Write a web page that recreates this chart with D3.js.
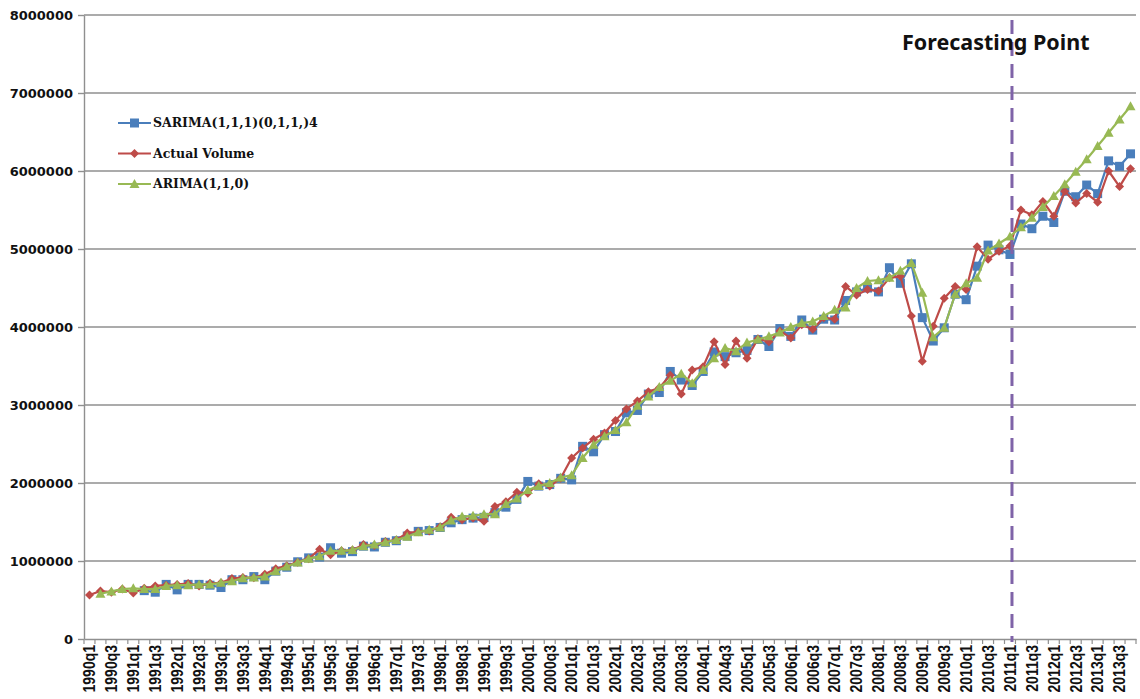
<!DOCTYPE html>
<html>
<head>
<meta charset="utf-8">
<script src="https://cdn.jsdelivr.net/npm/d3@7"></script>
<style>
  html, body { margin: 0; padding: 0; background: #fff; }
  svg { display: block; }
</style>
</head>
<body>
<svg id="chart" width="1140" height="699"></svg>
<script>
// Quarterly periods, 1990q1 .. 2013q4
const years = d3.range(1990, 2014);
const quarters = years.flatMap(yr => [1, 2, 3, 4].map(q => `${yr}q${q}`));

// Actual volume
const actualVolume = [
  565000, 615000, 600000, 640000,
  590000, 650000, 680000, 690000,
  700000, 710000, 680000, 715000,
  720000, 775000, 790000, 785000,
  830000, 900000, 940000, 985000,
  1030000, 1150000, 1080000, 1130000,
  1140000, 1210000, 1200000, 1250000,
  1270000, 1360000, 1375000, 1385000,
  1440000, 1560000, 1530000, 1550000,
  1510000, 1700000, 1760000, 1880000,
  1870000, 1990000, 1960000, 2060000,
  2320000, 2450000, 2560000, 2640000,
  2800000, 2950000, 3050000, 3170000,
  3220000, 3380000, 3140000, 3450000,
  3490000, 3810000, 3520000, 3820000,
  3600000, 3850000, 3810000, 3950000,
  3860000, 4030000, 3970000, 4120000,
  4100000, 4520000, 4410000, 4480000,
  4460000, 4630000, 4650000, 4140000,
  3560000, 4010000, 4370000, 4520000,
  4480000, 5030000, 4870000, 4970000,
  5040000, 5500000, 5440000, 5610000,
  5420000, 5740000, 5590000, 5710000,
  5600000, 6000000, 5800000, 6030000
];

// SARIMA(1,1,1)(0,1,1)4 fitted / forecast values
const sarimaValues = [
  null, null, null, null,
  null, 620000, 600000, 700000,
  630000, 700000, 700000, 690000,
  660000, 760000, 760000, 800000,
  760000, 870000, 920000, 990000,
  1040000, 1050000, 1170000, 1100000,
  1120000, 1190000, 1180000, 1240000,
  1260000, 1320000, 1380000, 1390000,
  1430000, 1490000, 1530000, 1550000,
  1560000, 1620000, 1690000, 1790000,
  2020000, 1960000, 1980000, 2060000,
  2040000, 2470000, 2400000, 2620000,
  2660000, 2900000, 2930000, 3140000,
  3160000, 3430000, 3320000, 3250000,
  3430000, 3680000, 3620000, 3670000,
  3700000, 3840000, 3750000, 3980000,
  3880000, 4090000, 3960000, 4100000,
  4090000, 4340000, 4450000, 4500000,
  4450000, 4760000, 4560000, 4810000,
  4120000, 3820000, 3990000, 4420000,
  4350000, 4780000, 5050000, 4990000,
  4930000, 5320000, 5260000, 5420000,
  5340000, 5740000, 5670000, 5820000,
  5710000, 6130000, 6060000, 6220000
];

// ARIMA(1,1,0) fitted / forecast values
const arimaValues = [
  null, 580000, 610000, 640000,
  650000, 640000, 640000, 680000,
  690000, 690000, 700000, 700000,
  720000, 740000, 780000, 790000,
  800000, 870000, 930000, 980000,
  1030000, 1060000, 1130000, 1130000,
  1140000, 1190000, 1210000, 1240000,
  1270000, 1310000, 1370000, 1400000,
  1430000, 1520000, 1570000, 1580000,
  1600000, 1600000, 1730000, 1800000,
  1910000, 1960000, 2000000, 2070000,
  2100000, 2320000, 2490000, 2600000,
  2680000, 2780000, 2990000, 3110000,
  3230000, 3310000, 3400000, 3280000,
  3450000, 3600000, 3730000, 3690000,
  3800000, 3840000, 3880000, 3930000,
  4000000, 4050000, 4070000, 4140000,
  4220000, 4250000, 4500000, 4590000,
  4600000, 4630000, 4720000, 4820000,
  4440000, 3870000, 3990000, 4420000,
  4560000, 4630000, 4980000, 5070000,
  5160000, 5280000, 5400000, 5540000,
  5680000, 5830000, 5990000, 6150000,
  6320000, 6490000, 6660000, 6830000
];

const yTicks = d3.range(0, 8000001, 1000000);
const forecastStart = "2011q1";

const series = [
  { name: "SARIMA(1,1,1)(0,1,1,)4", values: sarimaValues, color: "#4A7EBB", marker: "square" },
  { name: "Actual Volume", values: actualVolume, color: "#BE4B48", marker: "diamond" },
  { name: "ARIMA(1,1,0)", values: arimaValues, color: "#98B954", marker: "triangle" }
];

const svg = d3.select("#chart");
const plotLeft = 84, plotRight = 1136, plotTop = 15, plotBottom = 639;

const x = d3.scaleBand().domain(quarters).range([plotLeft, plotRight]).padding(0);
const y = d3.scaleLinear().domain([0, 8000000]).range([plotBottom, plotTop]);
const cx = q => x(q) + x.bandwidth() / 2;

const gridColor = "#8f8f8f";

// horizontal gridlines
svg.append("g")
  .selectAll("line")
  .data(yTicks.filter(d => d > 0))
  .join("line")
  .attr("x1", plotLeft).attr("x2", plotRight)
  .attr("y1", d => y(d)).attr("y2", d => y(d))
  .attr("stroke", gridColor).attr("stroke-width", 1.4);

// y axis
const yAxis = svg.append("g")
  .attr("transform", `translate(${plotLeft},0)`)
  .call(d3.axisLeft(y).tickValues(yTicks).tickFormat(d => String(d)).tickSize(6).tickSizeOuter(0));
yAxis.select(".domain").attr("stroke", gridColor).attr("stroke-width", 1.4);
yAxis.selectAll(".tick line").attr("stroke", gridColor).attr("stroke-width", 1.4);
yAxis.selectAll(".tick text")
  .attr("x", -11)
  .attr("font-family", "DejaVu Sans, sans-serif")
  .attr("font-weight", "bold")
  .attr("font-size", 13)
  .attr("fill", "#111");

// x axis: labels on every other quarter, ticks on category boundaries
const xAxis = svg.append("g")
  .attr("transform", `translate(0,${plotBottom})`)
  .call(d3.axisBottom(x).tickValues(quarters.filter((d, i) => i % 2 === 0)).tickSize(0).tickSizeOuter(0));
xAxis.select(".domain").attr("stroke", gridColor).attr("stroke-width", 1.4);
xAxis.selectAll(".tick text")
  .attr("transform", "rotate(-90) scale(1,1.15)")
  .attr("x", -6)
  .attr("y", 0)
  .attr("dy", "0.36em")
  .attr("text-anchor", "end")
  .attr("font-family", "Liberation Sans, Arial, sans-serif")
  .attr("font-weight", "bold")
  .attr("font-size", 14)
  .attr("fill", "#111");
xAxis.append("g")
  .selectAll("line")
  .data(quarters.concat([null]))
  .join("line")
  .attr("x1", (d, i) => plotLeft + i * x.bandwidth())
  .attr("x2", (d, i) => plotLeft + i * x.bandwidth())
  .attr("y1", 0).attr("y2", 5)
  .attr("stroke", gridColor).attr("stroke-width", 1.2);

// marker shapes
function drawMarker(g, type, color) {
  if (type === "square") {
    g.append("rect").attr("x", -4.5).attr("y", -4.5).attr("width", 9).attr("height", 9).attr("fill", color);
  } else if (type === "diamond") {
    g.append("path").attr("d", "M0,-4.5L4.5,0L0,4.5L-4.5,0Z").attr("fill", color);
  } else {
    g.append("path").attr("d", "M0,-5L5,4L-5,4Z").attr("fill", color);
  }
}

// series lines and markers
const line = d3.line()
  .defined(d => d.v != null)
  .x(d => cx(d.q))
  .y(d => y(d.v));

series.forEach(s => {
  const pts = quarters.map((q, i) => ({ q, v: s.values[i] }));
  const g = svg.append("g");
  g.append("path")
    .datum(pts)
    .attr("d", line)
    .attr("fill", "none")
    .attr("stroke", s.color)
    .attr("stroke-width", 2.2)
    .attr("stroke-linejoin", "round");
  g.selectAll("g.m")
    .data(pts.filter(d => d.v != null))
    .join("g")
    .attr("class", "m")
    .attr("transform", d => `translate(${cx(d.q)},${y(d.v)})`)
    .each(function () { drawMarker(d3.select(this), s.marker, s.color); });
});

// forecasting point marker
const fx = cx(forecastStart) + 2;
svg.append("line")
  .attr("x1", fx).attr("x2", fx)
  .attr("y1", 20).attr("y2", plotBottom + 3)
  .attr("stroke", "#7F63A8")
  .attr("stroke-width", 3)
  .attr("stroke-dasharray", "14,8");

svg.append("text")
  .attr("x", 902).attr("y", 50)
  .attr("font-family", "Noto Sans, sans-serif")
  .attr("font-weight", "bold")
  .attr("font-size", 21.5)
  .attr("fill", "#111")
  .text("Forecasting Point");

// legend
const legend = svg.append("g").attr("transform", "translate(118,123)");
series.forEach((s, i) => {
  const row = legend.append("g").attr("transform", `translate(0,${i * 30.5})`);
  row.append("line").attr("x1", 0).attr("x2", 33).attr("y1", 0).attr("y2", 0)
    .attr("stroke", s.color).attr("stroke-width", 2.2);
  const m = row.append("g").attr("transform", "translate(16.5,0)");
  drawMarker(m, s.marker, s.color);
  row.append("text")
    .attr("x", 35).attr("y", 0).attr("dy", "0.35em")
    .attr("font-family", "DejaVu Serif, serif")
    .attr("font-weight", "bold")
    .attr("font-size", 12.5)
    .attr("fill", "#111")
    .text(s.name);
});
</script>
</body>
</html>
